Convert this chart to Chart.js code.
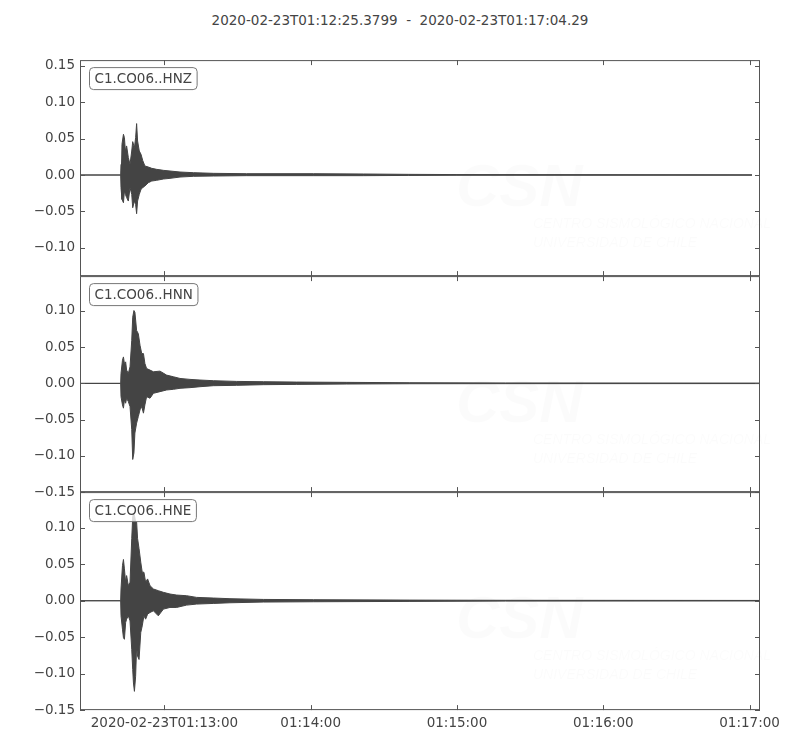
<!DOCTYPE html>
<html>
<head>
<meta charset="utf-8">
<script src="https://cdn.jsdelivr.net/npm/chart.js@4.4.1/dist/chart.umd.min.js"></script>
<style>
  body { margin: 0; background: #fff; }
  #wrap { position: relative; width: 800px; height: 750px; overflow: hidden; }
  #title { position: absolute; left: 0; width: 800px; top: 12px; text-align: center;
           font: 13.5px "DejaVu Sans"; color: #444; white-space: pre; }
  canvas { position: absolute; left: 0; }
</style>
</head>
<body>
<div id="wrap">
  <div id="title"></div>
  <canvas id="p1" width="800" height="260"></canvas>
  <canvas id="p2" width="800" height="260"></canvas>
  <canvas id="p3" width="800" height="290"></canvas>
</div>
<script>
// time is seconds after 01:12:00
var titleText = "2020-02-23T01:12:25.3799  -  2020-02-23T01:17:04.29";
var tStart = 25.38, tEnd = 304.29;
var xTicks = [60, 120, 180, 240, 300];
var xTickLabels = ["2020-02-23T01:13:00", "01:14:00", "01:15:00", "01:16:00", "01:17:00"];
var channels = ["C1.CO06..HNZ", "C1.CO06..HNN", "C1.CO06..HNE"];

var yTicks1 = [-0.10, -0.05, 0, 0.05, 0.10, 0.15];
var yTicks2 = [-0.15, -0.10, -0.05, 0, 0.05, 0.10];
var yTicks3 = [-0.15, -0.10, -0.05, 0, 0.05, 0.10];
var yRange1 = [-0.139, 0.158];
var yRange2 = [-0.15, 0.148];
var yRange3 = [-0.15, 0.149];

// envelopes (upper / lower amplitude)
var hnzTime  = [25.38, 42.06, 42.2, 42.6, 43.2, 43.6, 44.0, 44.5, 45.2, 45.9, 46.6, 47.0, 47.7, 48.2, 48.6, 49.0, 49.7, 50.4, 51.1, 52.0, 53.4, 54.8, 56.8, 59.6, 62.3, 66.4, 71.9, 80.1, 93.7, 121.1, 141.6, 160, 180, 301.0];
var hnzUpper = [0, 0, 0.0147, 0.0422, 0.056, 0.0514, 0.033, 0.040, 0.024, 0.0147, 0.033, 0.0459, 0.0376, 0.0514, 0.0707, 0.0468, 0.033, 0.0285, 0.020, 0.0124, 0.011, 0.0092, 0.0078, 0.0064, 0.0055, 0.0041, 0.0032, 0.0023, 0.0018, 0.0018, 0.0014, 0.0009, 0.0006, 0.0003];
var hnzLower = [0, 0, -0.0174, -0.0335, -0.0381, -0.022, -0.0266, -0.031, -0.0358, -0.0174, -0.0266, -0.045, -0.0358, -0.0404, -0.0532, -0.0358, -0.0266, -0.0197, -0.0174, -0.0151, -0.0106, -0.0083, -0.0073, -0.0055, -0.0046, -0.0028, -0.0018, -0.0014, -0.0009, -0.0009, -0.0009, -0.0006, -0.0004, -0.0003];

var hnnTime  = [25.38, 42.06, 42.2, 42.8, 43.2, 43.6, 44.1, 44.5, 45.2, 45.9, 46.6, 47.0, 47.5, 47.9, 48.6, 49.3, 50.0, 50.7, 51.4, 52.0, 52.7, 54.1, 55.5, 58.2, 60.9, 63.7, 66.4, 70.5, 74.6, 80.1, 89.6, 100.6, 114.2, 134.8, 160.7, 200, 304.29];
var hnnUpper = [0, 0, 0.0137, 0.032, 0.0365, 0.0274, 0.0297, 0.0183, 0.0137, 0.0228, 0.0594, 0.0913, 0.1005, 0.0982, 0.073, 0.0685, 0.0525, 0.0411, 0.0411, 0.0274, 0.0205, 0.0183, 0.016, 0.0169, 0.0114, 0.0091, 0.0068, 0.0055, 0.0046, 0.0037, 0.0027, 0.0023, 0.0018, 0.0014, 0.0009, 0.0006, 0.0004];
var hnnLower = [0, 0, -0.0183, -0.0297, -0.0342, -0.0228, -0.0274, -0.0205, -0.0251, -0.032, -0.0639, -0.105, -0.0959, -0.0685, -0.0548, -0.0457, -0.0365, -0.032, -0.0411, -0.0297, -0.0183, -0.0205, -0.0137, -0.0114, -0.0091, -0.0082, -0.0068, -0.0059, -0.0046, -0.0032, -0.0027, -0.0018, -0.0014, -0.0009, -0.0005, -0.0004, -0.0003];

var hneTime  = [25.38, 42.06, 42.2, 42.8, 43.2, 43.6, 44.1, 44.5, 45.2, 45.9, 46.6, 47.0, 47.3, 47.7, 48.2, 48.6, 49.0, 49.6, 50.3, 50.9, 51.6, 52.3, 53.1, 54.1, 55.5, 57.5, 59.6, 62.3, 65.0, 69.1, 73.2, 80.1, 86.9, 100.6, 121.1, 160.7, 200, 304.29];
var hneUpper = [0, 0, 0.0161, 0.0483, 0.0566, 0.0437, 0.0253, 0.0345, 0.0207, 0.0253, 0.0852, 0.1151, 0.1197, 0.1174, 0.1082, 0.1082, 0.0852, 0.0714, 0.0529, 0.0391, 0.0391, 0.0253, 0.0299, 0.0207, 0.0161, 0.0138, 0.0115, 0.0092, 0.0078, 0.0069, 0.0046, 0.0037, 0.0028, 0.0018, 0.0014, 0.0009, 0.0006, 0.0004];
var hneLower = [0, 0, -0.0207, -0.0391, -0.0506, -0.0529, -0.0299, -0.0253, -0.0207, -0.0276, -0.0668, -0.0944, -0.1128, -0.1243, -0.1036, -0.0622, -0.076, -0.0806, -0.0437, -0.0345, -0.0207, -0.0253, -0.0184, -0.0161, -0.0138, -0.0207, -0.0115, -0.0092, -0.0092, -0.006, -0.0046, -0.0037, -0.0028, -0.0018, -0.0014, -0.0009, -0.0005, -0.0003];

// where each panel's plot box sits on the page
var panelTops = [60, 276, 492];
var panelBottoms = [276, 492, 710];

document.getElementById("title").textContent = titleText;

var FONT = "DejaVu Sans";
var INK = "#444";
var FRAME = "#555";

function pts(t, v) {
  return t.map(function (x, i) { return { x: x, y: v[i] }; });
}

function fmtY(v) {
  if (Math.abs(v) < 1e-9) return "0.00";
  return v.toFixed(2).replace("-", "\u2212");
}

// frame, inward ticks, channel label, faint watermark
var deco = {
  id: "deco",
  beforeDatasetsDraw: function (chart) {
    var a = chart.chartArea, ctx = chart.ctx;
    ctx.save();
    ctx.fillStyle = "rgba(0,0,0,0.016)";
    ctx.font = "italic bold 60px 'Liberation Sans'";
    ctx.textBaseline = "alphabetic";
    ctx.fillText("CSN", a.left + 376, a.top + 146);
    ctx.font = "italic 14px 'Liberation Sans'";
    ctx.fillText("CENTRO SISMOLÓGICO NACIONAL", a.left + 453, a.top + 168);
    ctx.fillText("UNIVERSIDAD DE CHILE", a.left + 453, a.top + 187);
    ctx.restore();
  },
  afterDatasetsDraw: function (chart, args, opts) {
    var a = chart.chartArea, ctx = chart.ctx;
    var xs = chart.scales.x, ys = chart.scales.y;
    ctx.save();
    ctx.strokeStyle = FRAME;
    ctx.lineWidth = 1;
    ctx.strokeRect(a.left + 0.5, a.top + 0.5, a.right - a.left - 1, a.bottom - a.top - 1);
    ctx.beginPath();
    xTicks.forEach(function (t) {
      var px = Math.round(xs.getPixelForValue(t)) + 0.5;
      ctx.moveTo(px, a.top); ctx.lineTo(px, a.top + 5);
      ctx.moveTo(px, a.bottom); ctx.lineTo(px, a.bottom - 5);
    });
    opts.yTicks.forEach(function (v) {
      var py = Math.round(ys.getPixelForValue(v)) + 0.5;
      ctx.moveTo(a.left, py); ctx.lineTo(a.left + 5, py);
      ctx.moveTo(a.right, py); ctx.lineTo(a.right - 5, py);
    });
    ctx.stroke();

    // channel label box
    ctx.font = "13.5px '" + FONT + "'";
    var w = ctx.measureText(opts.label).width + 10;
    var bx = a.left + 9.5, by = a.top + 7.5, bh = 22;
    ctx.beginPath();
    ctx.roundRect(bx, by, w, bh, 4);
    ctx.fillStyle = "rgba(255,255,255,0.8)";
    ctx.fill();
    ctx.strokeStyle = "#777";
    ctx.stroke();
    ctx.fillStyle = INK;
    ctx.textBaseline = "middle";
    ctx.fillText(opts.label, bx + 5, by + bh / 2 + 1);
    ctx.restore();
  }
};

function makePanel(idx, label, t, up, lo, yTicks, yRange, showX) {
  var canvas = document.getElementById("p" + (idx + 1));
  var chart = new Chart(canvas, {
    type: "line",
    data: {
      datasets: [
        { data: pts(t, up), borderColor: INK, borderWidth: 1, pointRadius: 0, fill: false, tension: 0 },
        { data: pts(t, lo), borderColor: INK, borderWidth: 1, pointRadius: 0, fill: "-1",
          backgroundColor: INK, tension: 0 }
      ]
    },
    options: {
      responsive: false,
      maintainAspectRatio: false,
      animation: false,
      devicePixelRatio: 1,
      layout: { padding: { left: 0, right: 40, top: 4, bottom: 4 } },
      plugins: {
        legend: { display: false },
        tooltip: { enabled: false },
        deco: { label: label, yTicks: yTicks }
      },
      scales: {
        x: {
          type: "linear",
          min: tStart, max: tEnd,
          display: showX,
          grid: { display: false, drawTicks: false },
          border: { display: false },
          afterBuildTicks: function (s) { s.ticks = xTicks.map(function (v) { return { value: v }; }); },
          ticks: {
            maxRotation: 0, autoSkip: false, padding: 5,
            color: INK, font: { family: FONT, size: 13.5 },
            callback: function (v) { return xTickLabels[xTicks.indexOf(v)]; }
          }
        },
        y: {
          min: yRange[0], max: yRange[1],
          grid: { display: false, drawTicks: false },
          border: { display: false },
          afterBuildTicks: function (s) { s.ticks = yTicks.map(function (v) { return { value: v }; }); },
          afterFit: function (s) { s.width = 80; },
          ticks: {
            padding: 5, color: INK, font: { family: FONT, size: 13.5 },
            callback: function (v) { return fmtY(v); }
          }
        }
      }
    },
    plugins: [deco]
  });
  // place the canvas so the plot box lands exactly on the panel
  var h0 = canvas.height;
  var insetTop = chart.chartArea.top;
  var insetBottom = h0 - chart.chartArea.bottom;
  var wantH = panelBottoms[idx] - panelTops[idx];
  chart.resize(800, insetTop + wantH + insetBottom);
  canvas.style.top = (panelTops[idx] - insetTop) + "px";
  return chart;
}

makePanel(0, channels[0], hnzTime, hnzUpper, hnzLower, yTicks1, yRange1, false);
makePanel(1, channels[1], hnnTime, hnnUpper, hnnLower, yTicks2, yRange2, false);
makePanel(2, channels[2], hneTime, hneUpper, hneLower, yTicks3, yRange3, true);
</script>
</body>
</html>
